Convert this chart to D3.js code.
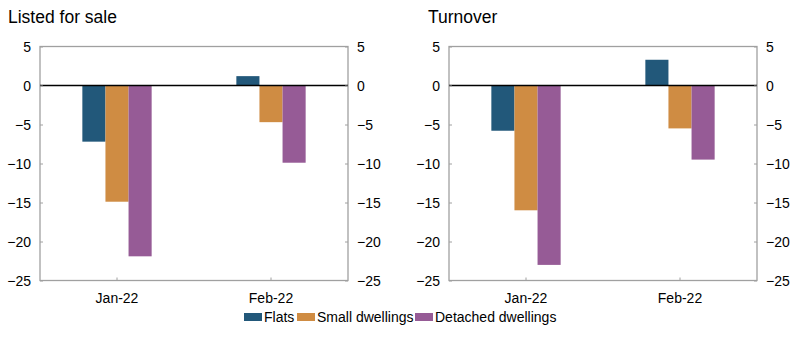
<!DOCTYPE html>
<html><head><meta charset="utf-8">
<script src="https://cdn.jsdelivr.net/npm/d3@7"></script>
<style>body{margin:0;background:#fff}svg{display:block;font-family:"Liberation Sans",Arial,sans-serif}</style>
</head><body><svg id="c" width="797" height="342"></svg>
<script>
const categories = ["Jan-22", "Feb-22"];
const seriesNames = ["Flats", "Small dwellings", "Detached dwellings"];
const seriesColors = ["#22587a", "#cf8c43", "#965b96"];
const panelTitles = ["Listed for sale", "Turnover"];
const listedFlats = [-7.2, 1.2];
const listedSmall = [-14.9, -4.7];
const listedDetached = [-21.9, -9.9];
const turnoverFlats = [-5.8, 3.3];
const turnoverSmall = [-16.0, -5.5];
const turnoverDetached = [-23.0, -9.5];
const yTicks = [5, 0, -5, -10, -15, -20, -25];

const panels = [
  {title: panelTitles[0], series: [listedFlats, listedSmall, listedDetached], x0: 40, x1: 348, tx: 8},
  {title: panelTitles[1], series: [turnoverFlats, turnoverSmall, turnoverDetached], x0: 449, x1: 757, tx: 428}
];
const svg = d3.select("#c");
const yTop = 46.5, yBot = 280.5;
const y = d3.scaleLinear().domain([-25, 5]).range([yBot, yTop]);
const fmt = d => d < 0 ? "\u2212" + Math.abs(d) : String(d);
const frame = "#a0a0a0";

panels.forEach(p => {
  const g = svg.append("g");
  g.append("text").attr("x", p.tx).attr("y", 23).attr("font-size", 17.5).attr("fill", "#000").text(p.title);
  const x = d3.scaleBand().domain(categories).range([p.x0, p.x1]);
  const x1 = d3.scaleBand().domain(d3.range(seriesNames.length)).range([0, x.bandwidth() * 0.45]);
  const off = (x.bandwidth() - x.bandwidth() * 0.45) / 2;
  g.append("rect").attr("x", p.x0).attr("y", yTop).attr("width", p.x1 - p.x0).attr("height", yBot - yTop)
    .attr("fill", "none").attr("stroke", frame).attr("stroke-width", 1.3);
  p.series.forEach((vals, si) => {
    g.selectAll(null).data(vals).enter().append("rect")
      .attr("x", (d, i) => x(categories[i]) + off + x1(si))
      .attr("width", x1.bandwidth())
      .attr("y", d => y(Math.max(0, d)))
      .attr("height", d => Math.abs(y(d) - y(0)))
      .attr("fill", seriesColors[si]);
  });
  g.append("line").attr("x1", p.x0).attr("x2", p.x1).attr("y1", y(0)).attr("y2", y(0)).attr("stroke", "#000").attr("stroke-width", 1.3);
  const left = g.append("g").attr("transform", `translate(${p.x0},0)`)
    .call(d3.axisRight(y).tickValues(yTicks).tickSize(3).tickFormat(""));
  left.select(".domain").remove();
  left.selectAll("line").attr("stroke", frame);
  yTicks.forEach(t => {
    g.append("text").attr("x", p.x0 - 9).attr("y", y(t) + 5).attr("text-anchor", "end").attr("font-size", 14).text(fmt(t));
    g.append("text").attr("x", p.x1 + 9).attr("y", y(t) + 5).attr("text-anchor", "start").attr("font-size", 14).text(fmt(t));
  });
  const right = g.append("g").attr("transform", `translate(${p.x1},0)`)
    .call(d3.axisLeft(y).tickValues(yTicks).tickSize(3).tickFormat(""));
  right.select(".domain").remove();
  right.selectAll("line").attr("stroke", frame);
  const bottom = g.append("g").attr("transform", `translate(0,${yBot})`)
    .call(d3.axisTop(x).tickSize(3).tickFormat(""));
  bottom.select(".domain").remove();
  bottom.selectAll("line").attr("stroke", frame);
  categories.forEach(c => {
    g.append("text").attr("x", x(c) + x.bandwidth() / 2).attr("y", 303).attr("text-anchor", "middle").attr("font-size", 14).text(c);
  });
});

const legendX = [244, 297, 415];
const lg = svg.append("g");
seriesNames.forEach((n, i) => {
  lg.append("rect").attr("x", legendX[i]).attr("y", 313).attr("width", 18).attr("height", 8).attr("fill", seriesColors[i]);
  lg.append("text").attr("x", legendX[i] + 20).attr("y", 322).attr("font-size", 14).text(n);
});
</script></body></html>
